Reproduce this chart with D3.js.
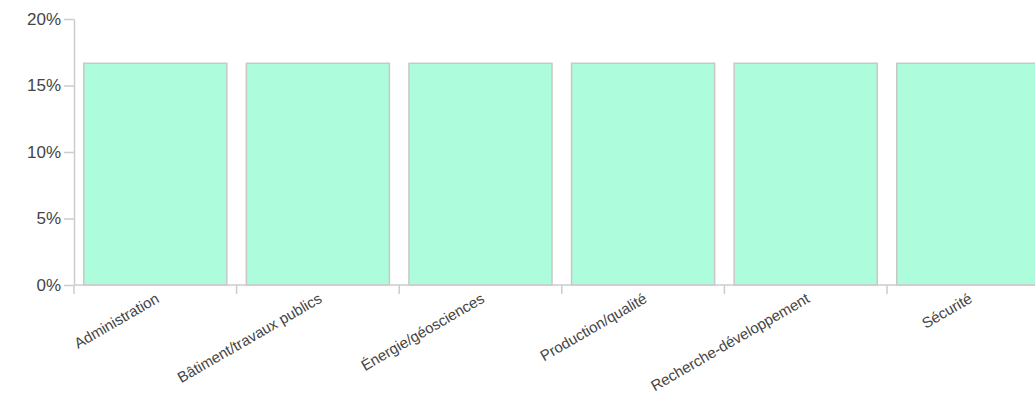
<!DOCTYPE html>
<html>
<head>
<meta charset="utf-8">
<script src="https://cdn.jsdelivr.net/npm/d3@7"></script>
<style>
  html, body { margin: 0; padding: 0; background: #fff; }
  svg { display: block; font-family: "Liberation Sans", Arial, sans-serif; }
</style>
</head>
<body>
<svg id="chart" width="1035" height="394"></svg>
<script>
const categories = ["Administration", "Bâtiment/travaux publics", "Énergie/géosciences", "Production/qualité", "Recherche-développement", "Sécurité"];
const values = [16.67, 16.67, 16.67, 16.67, 16.67, 16.67];
const yTicks = [0, 5, 10, 15, 20];

(function () {
const svg = d3.select("#chart");
const mLeft = 74, mRight = 1049.6, mTop = 19, mBottom = 285;

const x = d3.scaleBand().domain(categories).range([mLeft, mRight]).paddingInner(0.12).paddingOuter(0.06);
const y = d3.scaleLinear().domain([0, 20]).range([mBottom, mTop]);

// bars
svg.append("g").selectAll("rect").data(categories).join("rect")
  .attr("x", d => x(d))
  .attr("y", (d, i) => y(values[i]))
  .attr("width", x.bandwidth())
  .attr("height", (d, i) => y(0) - y(values[i]))
  .attr("fill", "#adfcdb")
  .attr("stroke", "#c8c8c8")
  .attr("stroke-width", 1.5);

// y axis
const yAxis = svg.append("g").attr("transform", `translate(${mLeft},0)`)
  .call(d3.axisLeft(y).tickValues(yTicks).tickFormat(d => d + "%").tickSize(10).tickPadding(3).tickSizeOuter(0));
yAxis.select(".domain").attr("stroke", "#ccc").attr("stroke-width", 1.5);
yAxis.selectAll(".tick line").attr("stroke", "#ccc").attr("stroke-width", 1.5);
yAxis.selectAll(".tick text").attr("fill", "#444").style("font-size", "17px").style("font-family", "Liberation Sans, Arial, sans-serif");

// x axis line
const xg = svg.append("g");
xg.append("line").attr("x1", mLeft).attr("x2", 1035).attr("y1", mBottom).attr("y2", mBottom)
  .attr("stroke", "#ccc").attr("stroke-width", 1.5);
// ticks at band boundaries
xg.selectAll("line.tk").data(categories).join("line").attr("class", "tk")
  .attr("x1", d => x(d) - x.step() * x.paddingInner() / 2)
  .attr("x2", d => x(d) - x.step() * x.paddingInner() / 2)
  .attr("y1", mBottom).attr("y2", mBottom + 9)
  .attr("stroke", "#ccc").attr("stroke-width", 1.5);
// labels
xg.selectAll("text").data(categories).join("text")
  .attr("transform", d => `translate(${x(d) + x.bandwidth() / 2 + 5},301.5) rotate(-30)`)
  .attr("text-anchor", "end")
  .attr("fill", "#444")
  .style("font-size", "15px")
  .text(d => d);
})();
</script>
</body>
</html>
